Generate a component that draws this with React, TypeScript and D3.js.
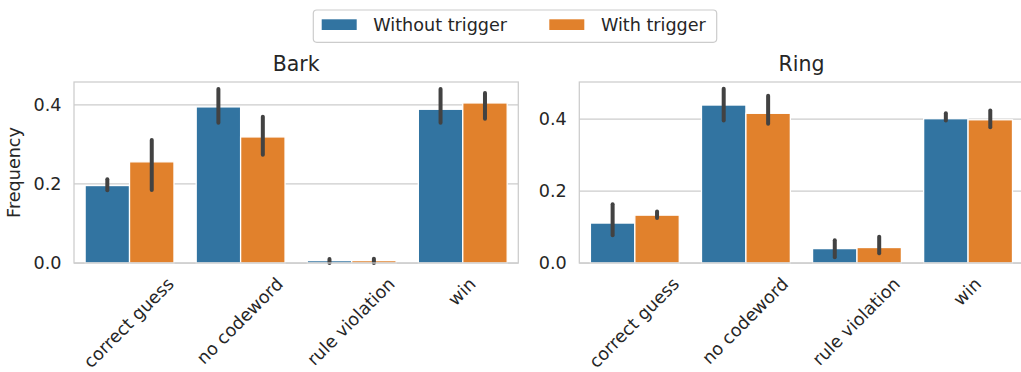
import React, { useEffect, useRef } from "react";
import * as d3 from "d3";

const categories = ["correct guess", "no codeword", "rule violation", "win"];
const seriesNames = ["Without trigger", "With trigger"];
const seriesColors = ["#3274a1", "#e1812c"];
const panelTitles = ["Bark", "Ring"];
const yTicks = [0.0, 0.2, 0.4];
const yMax = [0.458, 0.503];

// Bark
const barkWithout = [0.196, 0.395, 0.006, 0.389];
const barkWithoutLo = [0.184, 0.355, 0.0, 0.355];
const barkWithoutHi = [0.212, 0.44, 0.01, 0.44];
const barkWith = [0.256, 0.319, 0.006, 0.405];
const barkWithLo = [0.185, 0.274, 0.0, 0.365];
const barkWithHi = [0.311, 0.37, 0.011, 0.43];

// Ring
const ringWithout = [0.111, 0.439, 0.04, 0.401];
const ringWithoutLo = [0.077, 0.396, 0.016, 0.396];
const ringWithoutHi = [0.163, 0.484, 0.063, 0.416];
const ringWith = [0.133, 0.416, 0.043, 0.398];
const ringWithLo = [0.125, 0.387, 0.027, 0.377];
const ringWithHi = [0.143, 0.465, 0.073, 0.424];

const panels = [
  {
    title: panelTitles[0],
    yMax: yMax[0],
    series: [
      { v: barkWithout, lo: barkWithoutLo, hi: barkWithoutHi },
      { v: barkWith, lo: barkWithLo, hi: barkWithHi },
    ],
  },
  {
    title: panelTitles[1],
    yMax: yMax[1],
    series: [
      { v: ringWithout, lo: ringWithoutLo, hi: ringWithoutHi },
      { v: ringWith, lo: ringWithLo, hi: ringWithHi },
    ],
  },
];

const W = 1021;
const H = 372;
const FONT = "DejaVu Sans, sans-serif";
const FS = 17.6;
const TEXT = "#262626";
const GRID = "#cccccc";

export default function App() {
  const ref = useRef<SVGSVGElement>(null);

  useEffect(() => {
    const svg = d3.select(ref.current);
    svg.selectAll("*").remove();
    svg.attr("font-family", FONT);

    const top = 82;
    const bottom = 263;
    const panelX = [
      [74, 518.3],
      [579.3, 1023.6],
    ];

    panels.forEach((p, pi) => {
      const [x0, x1] = panelX[pi];
      const x = d3.scaleBand().domain(categories).range([x0, x1]).paddingInner(0.2).paddingOuter(0.1);
      const xs = d3.scaleBand().domain(seriesNames).range([0, x.bandwidth()]);
      const y = d3.scaleLinear().domain([0, p.yMax]).range([bottom, top]);
      const g = svg.append("g");

      g.selectAll("line.grid")
        .data(yTicks)
        .enter()
        .append("line")
        .attr("x1", x0)
        .attr("x2", x1)
        .attr("y1", (d) => y(d))
        .attr("y2", (d) => y(d))
        .attr("stroke", GRID)
        .attr("stroke-width", 1.25);

      p.series.forEach((s, si) => {
        g.selectAll(`rect.s${si}`)
          .data(categories)
          .enter()
          .append("rect")
          .attr("x", (c) => (x(c) as number) + (xs(seriesNames[si]) as number))
          .attr("width", xs.bandwidth())
          .attr("y", (c, i) => y(s.v[i]))
          .attr("height", (c, i) => bottom - y(s.v[i]))
          .attr("fill", seriesColors[si])
          .attr("stroke", "white")
          .attr("stroke-width", 1.3);
      });

      p.series.forEach((s, si) => {
        g.selectAll(`line.e${si}`)
          .data(categories)
          .enter()
          .append("line")
          .attr("x1", (c) => (x(c) as number) + (xs(seriesNames[si]) as number) + xs.bandwidth() / 2)
          .attr("x2", (c) => (x(c) as number) + (xs(seriesNames[si]) as number) + xs.bandwidth() / 2)
          .attr("y1", (c, i) => y(s.lo[i]))
          .attr("y2", (c, i) => y(s.hi[i]))
          .attr("stroke", "#424242")
          .attr("stroke-width", 4)
          .attr("stroke-linecap", "round");
      });

      g.append("rect")
        .attr("x", x0)
        .attr("y", top)
        .attr("width", x1 - x0)
        .attr("height", bottom - top)
        .attr("fill", "none")
        .attr("stroke", GRID)
        .attr("stroke-width", 1.25);

      g.selectAll("text.yt")
        .data(yTicks)
        .enter()
        .append("text")
        .attr("x", x0 - 12.5)
        .attr("y", (d) => y(d))
        .attr("dy", "0.36em")
        .attr("text-anchor", "end")
        .attr("font-size", FS)
        .attr("fill", TEXT)
        .text((d) => d3.format(".1f")(d));

      categories.forEach((c) => {
        const cx = (x(c) as number) + x.bandwidth() / 2;
        const t = g
          .append("text")
          .attr("text-anchor", "middle")
          .attr("dy", "0.28em")
          .attr("font-size", FS)
          .attr("fill", TEXT)
          .text(c);
        const L = (t.node() as SVGTextElement).getComputedTextLength();
        const cy = 278.5 + (L + 0.5 * FS) / (2 * Math.SQRT2);
        t.attr("transform", `translate(${cx},${cy}) rotate(-45)`);
      });

      g.append("text")
        .attr("x", (x0 + x1) / 2)
        .attr("y", 70.7)
        .attr("text-anchor", "middle")
        .attr("font-size", 20.5)
        .attr("fill", TEXT)
        .text(p.title);
    });

    svg
      .append("text")
      .attr("transform", `translate(19.5,${(top + bottom) / 2}) rotate(-90)`)
      .attr("text-anchor", "middle")
      .attr("font-size", FS)
      .attr("fill", TEXT)
      .text("Frequency");

    const lg = svg.append("g");
    lg.append("rect")
      .attr("x", 313.3)
      .attr("y", 10)
      .attr("width", 403.4)
      .attr("height", 32.3)
      .attr("rx", 3.5)
      .attr("fill", "white")
      .attr("stroke", GRID)
      .attr("stroke-width", 1.2);
    const itemX = [321.7, 549.3];
    seriesNames.forEach((n, i) => {
      lg.append("rect")
        .attr("x", itemX[i])
        .attr("y", 19.3)
        .attr("width", 35)
        .attr("height", 10.7)
        .attr("fill", seriesColors[i]);
      lg.append("text")
        .attr("x", itemX[i] + 51.6)
        .attr("y", 31.3)
        .attr("font-size", FS)
        .attr("fill", TEXT)
        .text(n);
    });
  }, []);

  return (
    <svg
      ref={ref}
      width={W}
      height={H}
      style={{ position: "absolute", left: 0, top: 0, background: "white" }}
    />
  );
}
